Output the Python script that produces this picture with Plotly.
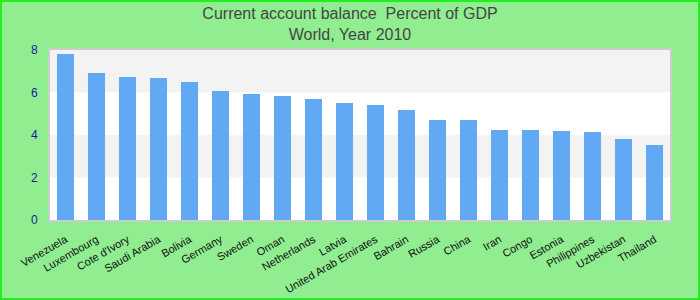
import plotly.graph_objects as go

countries = ["Venezuela", "Luxembourg", "Cote d'Ivory", "Saudi Arabia", "Bolivia", "Germany",
             "Sweden", "Oman", "Netherlands", "Latvia", "United Arab Emirates", "Bahrain",
             "Russia", "China", "Iran", "Congo", "Estonia", "Philippines", "Uzbekistan", "Thailand"]
values = [7.81, 6.92, 6.73, 6.68, 6.49, 6.07, 5.93, 5.84, 5.69, 5.51, 5.41, 5.18,
          4.71, 4.71, 4.24, 4.24, 4.19, 4.14, 3.81, 3.53]
y_ticks = [0, 2, 4, 6, 8]
bands = [(2, 4), (6, 8)]

W, H = 700, 300
ML, MR, MT, MB = 50, 30, 50, 80
pw, ph = W - ML - MR, H - MT - MB

fig = go.Figure()
fig.add_trace(go.Bar(x=countries, y=values, marker=dict(color="#61a9f3", line=dict(width=0)),
                     width=0.55))

shapes = []
for y0, y1 in bands:
    shapes.append(dict(type="rect", xref="paper", yref="y", x0=0, x1=1, y0=y0, y1=y1,
                       fillcolor="#f3f3f3", line=dict(width=0), layer="below"))
# outer bright green border
shapes.append(dict(type="rect", xref="paper", yref="paper",
                   x0=-(ML - 1) / pw, x1=1 + (MR - 1) / pw,
                   y0=-(MB - 1) / ph, y1=1 + (MT - 1) / ph,
                   line=dict(color="#22ee22", width=2), fillcolor="rgba(0,0,0,0)"))

fig.update_layout(
    width=W, height=H,
    margin=dict(l=ML, r=MR, t=MT, b=MB, pad=0, autoexpand=False),
    paper_bgcolor="#90ee90",
    plot_bgcolor="#ffffff",
    font=dict(family="Liberation Sans, Arial, sans-serif"),
    title=dict(text="Current account balance  Percent of GDP<br>World, Year 2010",
               x=0.5, xanchor="center", yref="container", y=1 - 19 / H, yanchor="middle",
               font=dict(size=16, color="#454545")),
    showlegend=False,
    bargap=0.45,
    shapes=shapes,
    xaxis=dict(tickangle=-30, tickfont=dict(size=11, color="#111111"), automargin=False,
               showline=True, linecolor="#cccccc", linewidth=2, mirror=True,
               showgrid=False, ticks="outside", ticklen=7, tickcolor="rgba(0,0,0,0)",
               zeroline=False),
    yaxis=dict(range=[0, 8], tickvals=y_ticks, tickfont=dict(size=12, color="#1a1a9a"),
               automargin=False,
               showline=True, linecolor="#cccccc", linewidth=2, mirror=True,
               showgrid=False, zeroline=False, ticks="outside", ticklen=8,
               tickcolor="rgba(0,0,0,0)"),
)

fig.write_html("out.html")
